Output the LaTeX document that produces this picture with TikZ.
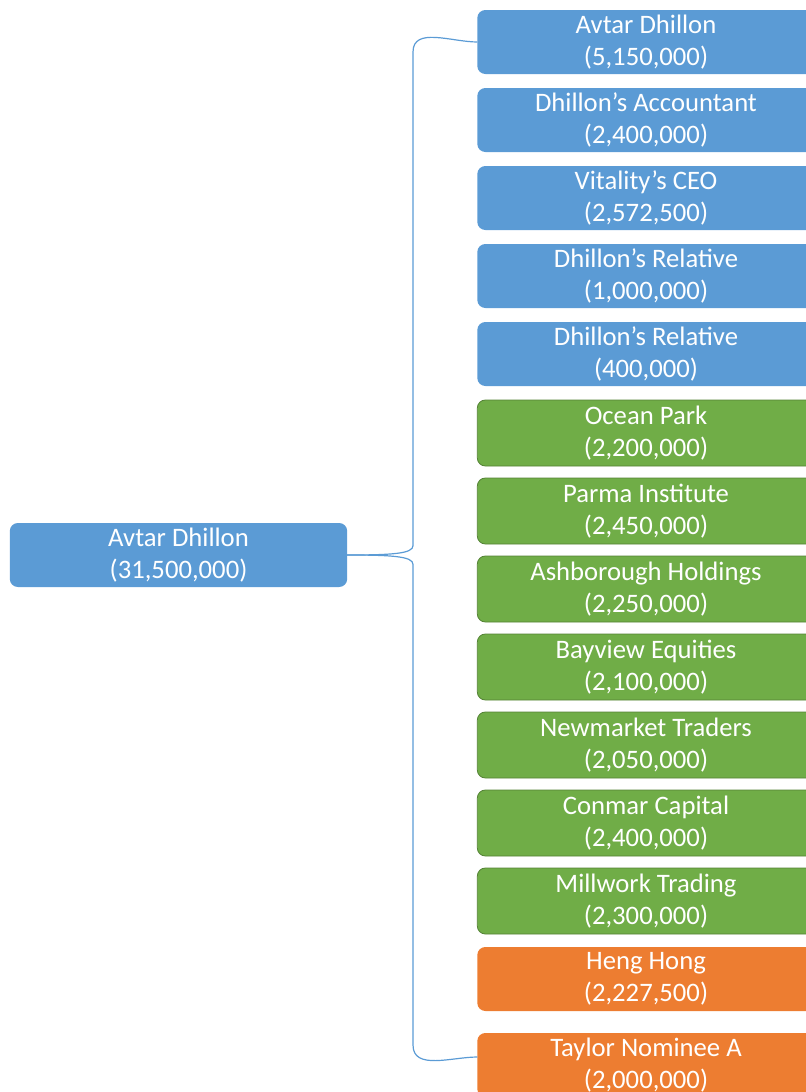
\documentclass[tikz,border=0pt]{standalone}
\usepackage{fontspec}
\setmainfont{Carlito}
\usepackage{tikz}
\usetikzlibrary{positioning}
\definecolor{boxblue}{HTML}{5B9BD5}
\definecolor{boxgreen}{HTML}{70AD47}
\definecolor{boxgreenline}{HTML}{548235}
\definecolor{boxorange}{HTML}{ED7D31}

\begin{document}
\begin{tikzpicture}[x=0.75pt,y=-0.75pt,
  box/.style={rounded corners=6pt,minimum width=253pt,minimum height=48pt,
    inner sep=0pt,outer sep=0pt,align=center,text=white,
    font=\fontsize{20}{24}\selectfont},
  blue box/.style={box,fill=boxblue},
  green box/.style={box,fill=boxgreen,draw=boxgreenline,line width=0.6pt,
    minimum height=49.5pt},
  orange box/.style={box,fill=boxorange},
  link/.style={draw=boxblue,line width=0.9pt}]

  \useasboundingbox (0,0) rectangle (806,1092);

  \node[blue box] (root) at (178.5,555) {Avtar Dhillon\\(31,500,000)};

  \node[blue box] (n1) at (646,42) {Avtar Dhillon\\(5,150,000)};
  \node[blue box] (n2) [below=10.5pt of n1] {Dhillon’s Accountant\\(2,400,000)};
  \node[blue box] (n3) [below=10.5pt of n2] {Vitality’s CEO\\(2,572,500)};
  \node[blue box] (n4) [below=10.5pt of n3] {Dhillon’s Relative\\(1,000,000)};
  \node[blue box] (n5) [below=10.5pt of n4] {Dhillon’s Relative\\(400,000)};
  \node[green box] (n6) [below=10.5pt of n5] {Ocean Park\\(2,200,000)};
  \node[green box] (n7) [below=9pt of n6] {Parma Institute\\(2,450,000)};
  \node[green box] (n8) [below=9pt of n7] {Ashborough Holdings\\(2,250,000)};
  \node[green box] (n9) [below=9pt of n8] {Bayview Equities\\(2,100,000)};
  \node[green box] (n10) [below=9pt of n9] {Newmarket Traders\\(2,050,000)};
  \node[green box] (n11) [below=9pt of n10] {Conmar Capital\\(2,400,000)};
  \node[green box] (n12) [below=9pt of n11] {Millwork Trading\\(2,300,000)};
  \node[orange box] (n13) [below=9.75pt of n12] {Heng Hong\\(2,227,500)};
  \node[orange box] (n14) [below=16.5pt of n13] {Taylor Nominee A\\(2,000,000)};

  % bracket
  \coordinate (trunk) at (413,0);
  \draw[link] (root.east) .. controls +(45,0) and +(0,8) .. ([yshift=7pt]root.east -| trunk)
    -- ([yshift=-7.5pt]n1.west -| trunk) to[out=90,in=180] (n1.west);
  \draw[link] (root.east) .. controls +(45,0) and +(0,-8) .. ([yshift=-7pt]root.east -| trunk)
    -- ([yshift=15pt]n14.west -| trunk) to[out=-90,in=180] ([yshift=6pt]n14.west);

\end{tikzpicture}
\end{document}
